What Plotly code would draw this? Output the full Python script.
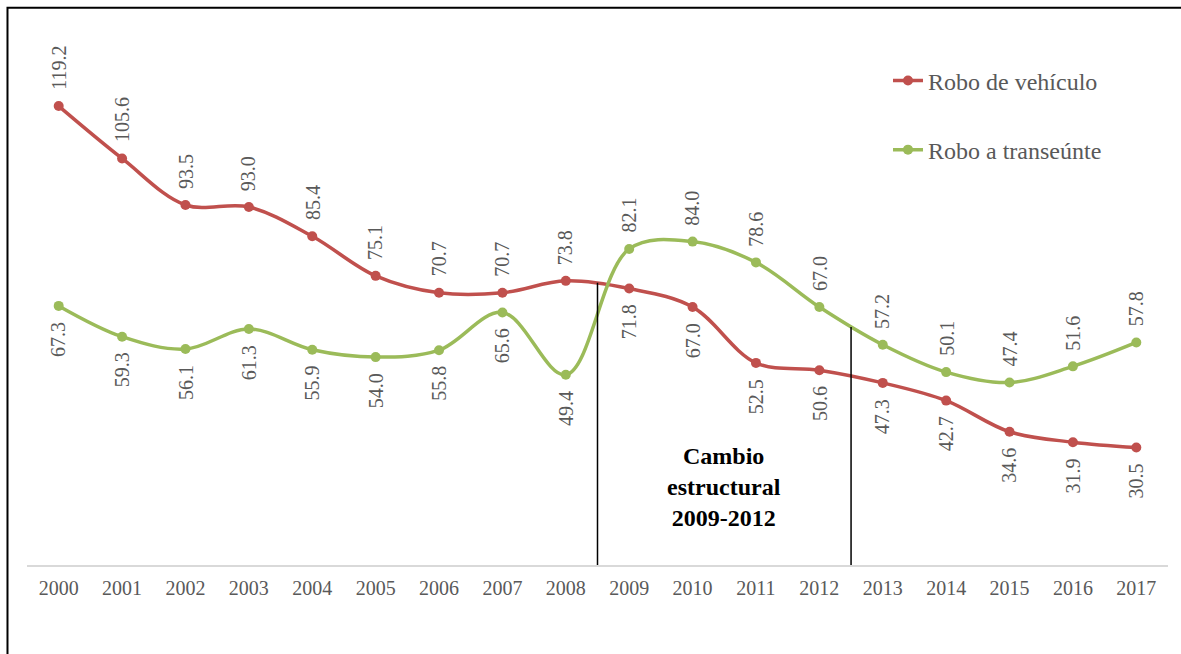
import plotly.graph_objects as go

years = [str(y) for y in range(2000, 2018)]
robo_vehiculo = [119.2, 105.6, 93.5, 93.0, 85.4, 75.1, 70.7, 70.7, 73.8,
                 71.8, 67.0, 52.5, 50.6, 47.3, 42.7, 34.6, 31.9, 30.5]
robo_transeunte = [67.3, 59.3, 56.1, 61.3, 55.9, 54.0, 55.8, 65.6, 49.4,
                   82.1, 84.0, 78.6, 67.0, 57.2, 50.1, 47.4, 51.6, 57.8]
series_names = ["Robo de vehículo", "Robo a transeúnte"]
annotation_text = "Cambio<br>estructural<br>2009-2012"

RED = "#C0504D"
GREEN = "#9BBB59"
GRAY = "#595959"
FONT = "Liberation Serif, Times New Roman, serif"

fig = go.Figure()
for name, vals, col, grp in [(series_names[0], robo_vehiculo, RED, "a"),
                             (series_names[1], robo_transeunte, GREEN, "b")]:
    fig.add_trace(go.Scatter(
        x=years, y=vals, name=name, mode="lines+markers",
        line=dict(color=col, width=3.5, shape="spline", smoothing=1.0),
        marker=dict(color=col, size=10),
        legendgroup=grp,
    ))

# data labels (rotated)
annots = []
for i in range(len(years)):
    for vals, above in [(robo_vehiculo, i < 9), (robo_transeunte, i >= 9)]:
        v = vals[i]
        annots.append(dict(x=i, y=v, xref="x", yref="y", text=f"{v:.1f}",
                           showarrow=False, textangle=-90,
                           font=dict(family=FONT, size=20, color=GRAY),
                           xanchor="center", yanchor="bottom" if above else "top",
                           yshift=14 if above else -14))

annots.append(dict(x=10.5, y=20.3, xref="x", yref="y", text=f"<b>{annotation_text}</b>",
                   showarrow=False, font=dict(family=FONT, size=24, color="black"),
                   xanchor="center", yanchor="middle"))

shapes = [
    dict(type="line", xref="x", yref="y", x0=8.5, x1=8.5, y0=0, y1=73.3,
         line=dict(color="black", width=1.5)),
    dict(type="line", xref="x", yref="y", x0=12.5, x1=12.5, y0=0, y1=61.8,
         line=dict(color="black", width=1.5)),
    dict(type="rect", xref="paper", yref="paper", x0=-0.0171, x1=1.05,
         y0=-0.25, y1=1.034, line=dict(color="black", width=2)),
]

fig.update_layout(
    width=1181, height=654,
    margin=dict(l=27, r=13, t=26, b=89),
    paper_bgcolor="white", plot_bgcolor="white",
    font=dict(family=FONT, color=GRAY),
    showlegend=True,
    legend=dict(x=0.7546, y=0.94, xanchor="left", yanchor="top",
                font=dict(family=FONT, size=24, color=GRAY),
                tracegroupgap=35, bgcolor="rgba(0,0,0,0)", itemwidth=30),
    annotations=annots,
    shapes=shapes,
    xaxis=dict(type="category", range=[-0.5, 17.5], showgrid=False,
               showline=True, linecolor="#D9D9D9", linewidth=1.5,
               ticks="", ticklabelstandoff=4,
               tickfont=dict(family=FONT, size=20, color=GRAY),
               zeroline=False, fixedrange=True),
    yaxis=dict(range=[0, 140], visible=False, showgrid=False, zeroline=False),
)

fig.write_html("out.html")
